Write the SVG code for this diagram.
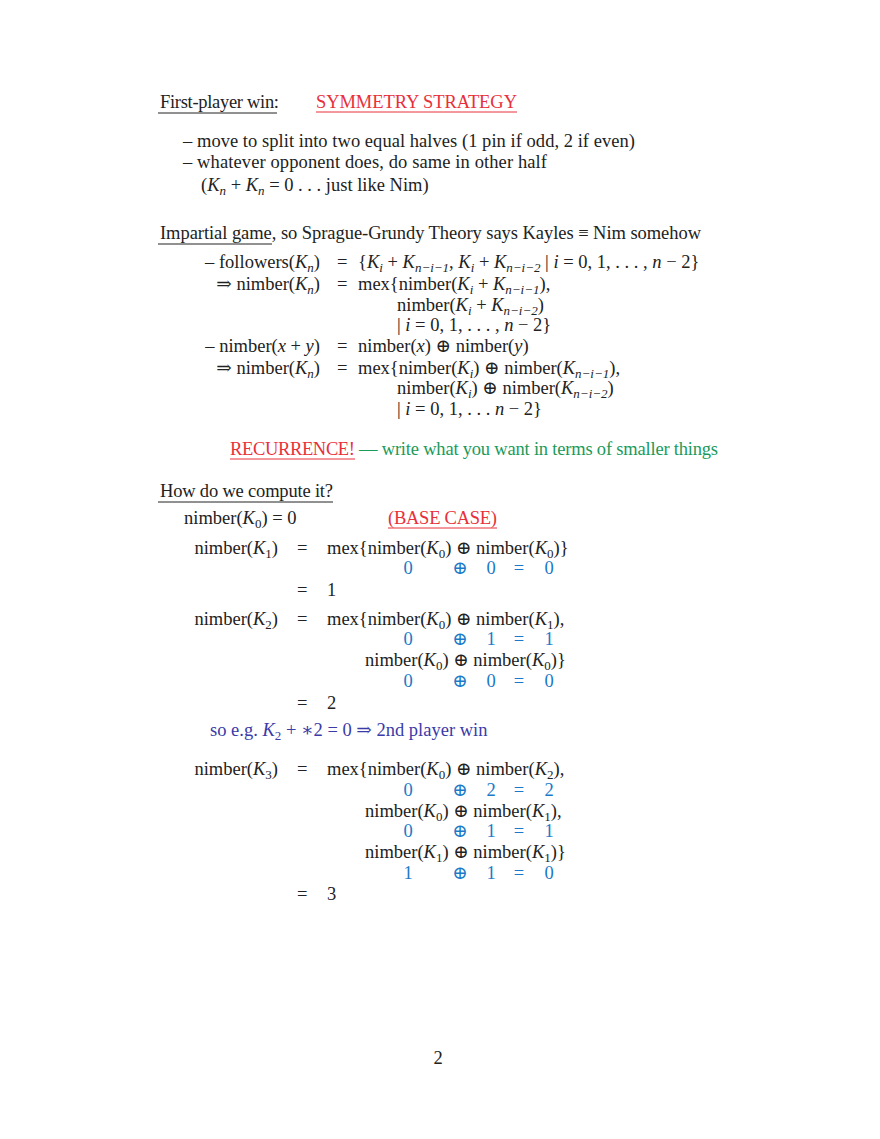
<svg xmlns="http://www.w3.org/2000/svg" width="880" height="1139" viewBox="0 0 880 1139">
<style>
text{font-family:"Liberation Serif","DejaVu Serif",serif;font-size:18.5px;fill:#222}
.i{font-style:italic}
.s{font-size:13px;baseline-shift:-4px}
.r{fill:#e8303a}
.g{fill:#1a9a5a}
.b{fill:#1a7ac8}
.v{fill:#3a3aa8}
.e{text-anchor:end}
.m{text-anchor:middle}
line{stroke:#222;stroke-width:1}
line.red{stroke:#e8303a}
</style>
<rect width="880" height="1139" fill="#fff"/>
<g id="sec1">
<text x="160" y="108" textLength="119">First-player win:</text>
<line x1="158" y1="113" x2="277" y2="113"/>
<text x="316" y="108" class="r" textLength="201">SYMMETRY STRATEGY</text>
<line class="red" x1="316" y1="112" x2="517" y2="112"/>
<text x="183" y="147" textLength="452">– move to split into two equal halves (1 pin if odd, 2 if even)</text>
<text x="183" y="168" textLength="364">– whatever opponent does, do same in other half</text>
<text x="201" y="191">(<tspan class="i">K</tspan><tspan class="s i">n</tspan> + <tspan class="i">K</tspan><tspan class="s i">n</tspan> = 0 . . . just like Nim)</text>
</g>
<g id="sec2">
<text x="160" y="239" textLength="541">Impartial game, so Sprague-Grundy Theory says Kayles ≡ Nim somehow</text>
<line x1="158" y1="244" x2="272" y2="244"/>
<text x="320" y="268" class="e">– followers(<tspan class="i">K</tspan><tspan class="s i">n</tspan>)</text>
<text x="337" y="268">=</text>
<text x="358" y="268">{<tspan class="i">K</tspan><tspan class="s i">i</tspan> + <tspan class="i">K</tspan><tspan class="s i">n−i−1</tspan>, <tspan class="i">K</tspan><tspan class="s i">i</tspan> + <tspan class="i">K</tspan><tspan class="s i">n−i−2</tspan> | <tspan class="i">i</tspan> = 0, 1, . . . , <tspan class="i">n</tspan> − 2}</text>
<text x="320" y="290" class="e">⇒ nimber(<tspan class="i">K</tspan><tspan class="s i">n</tspan>)</text>
<text x="337" y="290">=</text>
<text x="358" y="290">mex{nimber(<tspan class="i">K</tspan><tspan class="s i">i</tspan> + <tspan class="i">K</tspan><tspan class="s i">n−i−1</tspan>),</text>
<text x="397" y="311">nimber(<tspan class="i">K</tspan><tspan class="s i">i</tspan> + <tspan class="i">K</tspan><tspan class="s i">n−i−2</tspan>)</text>
<text x="397" y="331">| <tspan class="i">i</tspan> = 0, 1, . . . , <tspan class="i">n</tspan> − 2}</text>
<text x="320" y="352" class="e">– nimber(<tspan class="i">x</tspan> + <tspan class="i">y</tspan>)</text>
<text x="337" y="352">=</text>
<text x="358" y="352">nimber(<tspan class="i">x</tspan>) ⊕ nimber(<tspan class="i">y</tspan>)</text>
<text x="320" y="374" class="e">⇒ nimber(<tspan class="i">K</tspan><tspan class="s i">n</tspan>)</text>
<text x="337" y="374">=</text>
<text x="358" y="374">mex{nimber(<tspan class="i">K</tspan><tspan class="s i">i</tspan>) ⊕ nimber(<tspan class="i">K</tspan><tspan class="s i">n−i−1</tspan>),</text>
<text x="397" y="394">nimber(<tspan class="i">K</tspan><tspan class="s i">i</tspan>) ⊕ nimber(<tspan class="i">K</tspan><tspan class="s i">n−i−2</tspan>)</text>
<text x="397" y="415">| <tspan class="i">i</tspan> = 0, 1, . . . <tspan class="i">n</tspan> − 2}</text>
<text x="230" y="455" class="r" textLength="125">RECURRENCE!</text>
<line class="red" x1="230" y1="459" x2="355" y2="459"/>
<text x="359" y="455" class="g" textLength="359">— write what you want in terms of smaller things</text>
</g>
<g id="sec3">
<text x="160" y="497" textLength="173">How do we compute it?</text>
<line x1="158" y1="502" x2="333" y2="502"/>
<text x="184" y="524">nimber(<tspan class="i">K</tspan><tspan class="s">0</tspan>) = 0</text>
<text x="388" y="524" class="r" textLength="109">(BASE CASE)</text>
<line class="red" x1="388" y1="528" x2="497" y2="528"/>
<text x="278" y="554" class="e">nimber(<tspan class="i">K</tspan><tspan class="s">1</tspan>)</text>
<text x="297" y="554">=</text>
<text x="327" y="554">mex{nimber(<tspan class="i">K</tspan><tspan class="s">0</tspan>) ⊕ nimber(<tspan class="i">K</tspan><tspan class="s">0</tspan>)}</text>
<text x="408" y="574" class="m b">0</text><text x="460" y="574" class="m b">⊕</text><text x="491" y="574" class="m b">0</text><text x="519" y="574" class="m b">=</text><text x="549" y="574" class="m b">0</text>
<text x="297" y="596">=</text><text x="327" y="596">1</text>
<text x="278" y="625" class="e">nimber(<tspan class="i">K</tspan><tspan class="s">2</tspan>)</text>
<text x="297" y="625">=</text>
<text x="327" y="625">mex{nimber(<tspan class="i">K</tspan><tspan class="s">0</tspan>) ⊕ nimber(<tspan class="i">K</tspan><tspan class="s">1</tspan>),</text>
<text x="408" y="645" class="m b">0</text><text x="460" y="645" class="m b">⊕</text><text x="491" y="645" class="m b">1</text><text x="519" y="645" class="m b">=</text><text x="549" y="645" class="m b">1</text>
<text x="365" y="666">nimber(<tspan class="i">K</tspan><tspan class="s">0</tspan>) ⊕ nimber(<tspan class="i">K</tspan><tspan class="s">0</tspan>)}</text>
<text x="408" y="687" class="m b">0</text><text x="460" y="687" class="m b">⊕</text><text x="491" y="687" class="m b">0</text><text x="519" y="687" class="m b">=</text><text x="549" y="687" class="m b">0</text>
<text x="297" y="709">=</text><text x="327" y="709">2</text>
<text x="210" y="736" class="v">so e.g.  <tspan class="i">K</tspan><tspan class="s">2</tspan> + ∗2 = 0 ⇒ 2nd player win</text>
<text x="278" y="775" class="e">nimber(<tspan class="i">K</tspan><tspan class="s">3</tspan>)</text>
<text x="297" y="775">=</text>
<text x="327" y="775">mex{nimber(<tspan class="i">K</tspan><tspan class="s">0</tspan>) ⊕ nimber(<tspan class="i">K</tspan><tspan class="s">2</tspan>),</text>
<text x="408" y="796" class="m b">0</text><text x="460" y="796" class="m b">⊕</text><text x="491" y="796" class="m b">2</text><text x="519" y="796" class="m b">=</text><text x="549" y="796" class="m b">2</text>
<text x="365" y="817">nimber(<tspan class="i">K</tspan><tspan class="s">0</tspan>) ⊕ nimber(<tspan class="i">K</tspan><tspan class="s">1</tspan>),</text>
<text x="408" y="837" class="m b">0</text><text x="460" y="837" class="m b">⊕</text><text x="491" y="837" class="m b">1</text><text x="519" y="837" class="m b">=</text><text x="549" y="837" class="m b">1</text>
<text x="365" y="858">nimber(<tspan class="i">K</tspan><tspan class="s">1</tspan>) ⊕ nimber(<tspan class="i">K</tspan><tspan class="s">1</tspan>)}</text>
<text x="408" y="879" class="m b">1</text><text x="460" y="879" class="m b">⊕</text><text x="491" y="879" class="m b">1</text><text x="519" y="879" class="m b">=</text><text x="549" y="879" class="m b">0</text>
<text x="297" y="900">=</text><text x="327" y="900">3</text>
</g>
<text x="438" y="1064" class="m">2</text>
</svg>
